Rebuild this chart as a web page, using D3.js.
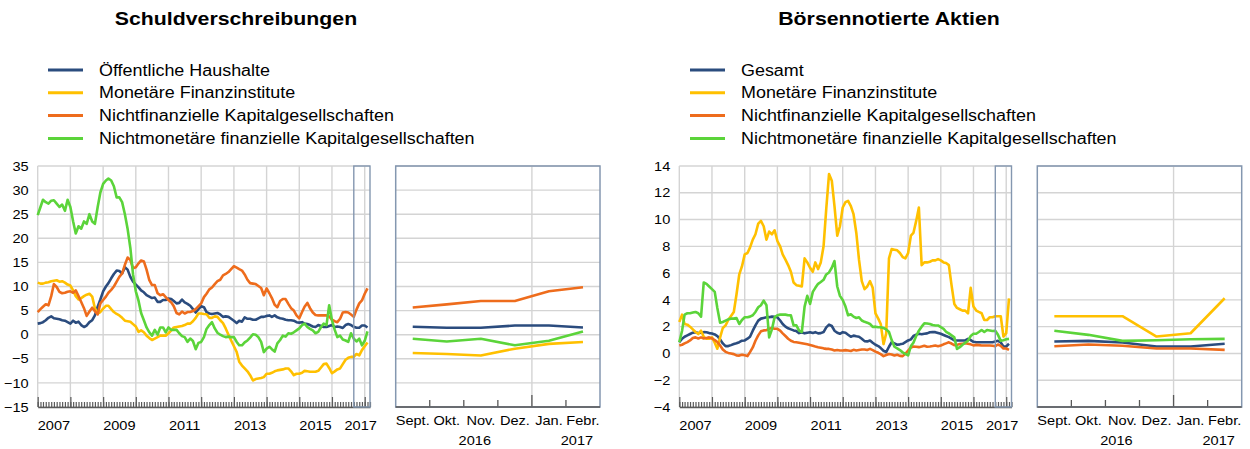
<!DOCTYPE html>
<html>
<head>
<meta charset="utf-8">
<script src="https://cdn.jsdelivr.net/npm/d3@7"></script>
<style>
  body { margin: 0; background: #fff; }
  text { font-family: "Liberation Sans", Arial, sans-serif; fill: #000; }
</style>
</head>
<body>
<script>

// months Jan 2007 .. Feb 2017 (122 values per series)
var months = d3.timeMonth.range(new Date(2007, 0, 1), new Date(2017, 2, 1));
var zoomMonths = ['Sept.', 'Okt.', 'Nov.', 'Dez.', 'Jan.', 'Febr.'];

// Schuldverschreibungen
var bondNames = ['Öffentliche Haushalte', 'Monetäre Finanzinstitute', 'Nichtfinanzielle Kapitalgesellschaften', 'Nichtmonetäre finanzielle Kapitalgesellschaften'];
var bondGov = [2.3, 2.4, 2.6, 3.0, 3.5, 3.8, 3.4, 3.3, 3.2, 3.0, 2.9, 2.6,
  2.3, 2.9, 2.5, 2.7, 2.0, 1.6, 1.9, 2.6, 3.0, 4.0, 5.8, 7.3,
  9.0, 10.0, 10.7, 11.7, 12.6, 13.3, 13.2, 12.7, 14.0, 13.5, 12.0, 11.0,
  10.4, 9.8, 9.2, 8.8, 8.2, 7.9, 7.6, 7.7, 6.8, 6.8, 7.2, 7.2,
  7.5, 7.4, 7.0, 6.5, 6.6, 7.3, 6.7, 6.4, 6.0, 5.3, 4.6, 5.3,
  5.9, 5.7, 4.7, 4.4, 4.3, 4.4, 4.5, 4.2, 3.7, 3.8, 3.7, 3.3,
  2.9, 2.4, 2.9, 2.7, 3.6, 3.3, 3.3, 3.1, 3.1, 3.4, 3.7, 3.7,
  3.9, 4.0, 3.7, 4.0, 3.6, 3.4, 3.3, 3.1, 3.0, 3.0, 2.9, 2.6,
  2.5, 2.6, 2.3, 2.2, 2.0, 1.7, 1.6, 2.0, 1.8, 1.6, 1.6, 1.8,
  2.0, 1.6, 1.7, 1.6, 1.4, 2.0, 2.2, 2.0, 1.64, 1.43, 1.43, 1.9, 1.9, 1.5];
var bondMfi = [10.8, 10.6, 10.6, 10.8, 10.9, 11.1, 11.2, 11.3, 11.0, 11.1, 10.8, 10.4,
  10.2, 9.2, 8.0, 7.3, 7.6, 8.0, 8.3, 8.5, 7.9, 5.5, 4.4, 4.7,
  5.4, 6.0, 6.0, 5.3, 4.7, 4.3, 4.0, 3.5, 2.9, 2.8, 2.7, 2.2,
  1.7, 0.6, 0.9, 0.5, -0.2, -0.7, -1.1, -0.8, -0.5, -0.2, -0.2, -0.2,
  0.3, 0.9, 1.5, 1.6, 1.7, 1.8, 2.0, 2.3, 2.3, 2.8, 3.5, 4.4,
  4.4, 4.3, 4.25, 3.5, 3.5, 3.8, 3.7, 3.0, 2.4, 1.3, 0.0, -1.2,
  -2.4, -3.6, -5.6, -6.4, -7.0, -7.6, -8.4, -9.5, -9.2, -9.1, -9.0, -8.8,
  -8.1, -8.1, -7.9, -7.6, -7.4, -7.3, -7.2, -7.0, -7.0, -7.6, -8.4, -8.1,
  -8.1, -7.9, -7.5, -7.6, -7.7, -7.7, -7.7, -7.5, -6.8, -6.1, -6.0, -6.9,
  -8.0, -7.6, -7.2, -7.0, -6.1, -5.2, -4.8, -4.6, -4.6, -4.0, -4.3, -3.2, -2.4, -1.6];
var bondNfc = [4.7, 5.3, 5.8, 6.3, 6.1, 8.0, 10.5, 9.9, 8.9, 8.6, 8.7, 8.9,
  9.0, 8.7, 9.2, 8.0, 6.8, 5.5, 3.9, 4.8, 5.6, 4.9, 4.2, 6.5,
  7.2, 7.9, 8.7, 9.3, 10.0, 11.0, 12.0, 12.7, 14.5, 16.0, 15.5, 13.8,
  14.0, 14.8, 15.4, 15.2, 13.5, 11.3, 10.3, 10.3, 8.6, 8.2, 8.4, 7.8,
  7.2, 6.7, 5.9, 4.5, 4.2, 4.8, 4.4, 4.7, 4.7, 4.9, 5.3, 5.9,
  6.5, 7.8, 8.5, 9.4, 9.8, 10.5, 11.1, 11.4, 12.3, 12.6, 13.0, 13.6,
  14.2, 13.9, 13.6, 13.3, 12.5, 11.4, 10.7, 10.6, 10.5, 10.1, 9.7, 8.2,
  9.6, 8.6, 7.6, 6.2, 5.7, 7.0, 7.4, 7.4, 6.4, 5.5, 5.0, 4.0,
  3.4, 4.7, 5.8, 6.6, 5.5, 4.6, 4.1, 4.0, 4.0, 4.0, 4.0, 3.8,
  3.1, 2.8, 2.6, 3.3, 4.6, 4.7, 4.6, 4.2, 3.7, 5.2, 6.5, 7.1, 8.5, 9.6];
var bondOfi = [24.8, 26.5, 28.0, 27.5, 27.2, 27.8, 27.9, 27.2, 26.5, 27.0, 25.7, 28.0,
  26.5, 23.5, 21.0, 22.5, 22.0, 23.5, 23.0, 25.0, 23.5, 23.0, 26.5, 29.5,
  31.3, 32.0, 32.4, 32.0, 30.8, 28.5, 28.5, 27.5, 25.0, 22.0, 18.0, 12.5,
  9.0, 7.0, 4.5, 3.0, 1.5, 0.5, -0.2, 1.0, 0.0, 1.5, 1.5, 0.5,
  1.5, 1.0, 1.0, 1.0, 0.3, -0.3, -0.5, -1.5, -0.8, -1.3, -3.0, -1.7,
  -1.5, -0.5, 1.2, 2.0, 2.6, 1.3, 0.4, 0.0, -0.3, -0.5, -0.4, -0.5,
  -0.5, -1.5, -2.2, -2.2, -1.6, -1.2, -0.6, 0.1, 0.0, -0.5, -1.5, -3.6,
  -2.9, -2.5, -3.0, -3.5, -1.8, -1.1, -0.2, -0.4, 0.3, 0.2, 0.5, 0.9,
  1.3, 2.0, 2.3, 1.6, 1.2, 0.9, 0.3, 0.6, 1.6, 2.3, 2.0, 6.1,
  3.0, 1.0, -0.5, -0.2, -1.0, -1.2, -1.5, 0.3, -0.84, -1.4, -0.84, -2.2, -1.26, 0.68];
var bondGovZoom = [1.64, 1.43, 1.43, 1.9, 1.9, 1.5];
var bondMfiZoom = [-3.8, -4.0, -4.3, -2.9, -1.9, -1.5];
var bondNfcZoom = [5.65, 6.3, 7.0, 7.0, 9.0, 9.85];
var bondOfiZoom = [-0.84, -1.4, -0.84, -2.2, -1.26, 0.68];
var bondTicks = [-15, -10, -5, 0, 5, 10, 15, 20, 25, 30, 35];

// Börsennotierte Aktien
var shareNames = ['Gesamt', 'Monetäre Finanzinstitute', 'Nichtfinanzielle Kapitalgesellschaften', 'Nichtmonetäre finanzielle Kapitalgesellschaften'];
var shareTotal = [0.84, 1.1, 1.25, 1.35, 1.45, 1.55, 1.59, 1.53, 1.55, 1.59, 1.58, 1.52,
  1.49, 1.42, 1.3, 1.05, 0.75, 0.55, 0.55, 0.62, 0.7, 0.76, 0.84, 0.95,
  0.97, 1.1, 1.25, 1.7, 2.1, 2.45, 2.6, 2.65, 2.7, 2.71, 2.75, 2.73,
  2.7, 2.46, 2.2, 2.0, 1.88, 1.8, 1.72, 1.67, 1.52, 1.56, 1.5, 1.55,
  1.58, 1.53, 1.59, 1.5, 1.52, 1.6, 1.95, 2.15, 2.05, 1.7, 1.55, 1.47,
  1.59, 1.55, 1.4, 1.25, 1.33, 1.28, 1.25, 1.1, 0.92, 0.9, 0.97, 0.8,
  0.65, 0.55, 0.4, 0.2, 0.1, 0.5, 0.85, 0.75, 0.65, 0.68, 0.72, 0.84,
  0.97, 1.05, 1.3, 1.4, 1.47, 1.43, 1.47, 1.5, 1.58, 1.59, 1.59, 1.53,
  1.47, 1.38, 1.3, 1.22, 1.1, 0.98, 0.97, 0.97, 0.97, 0.97, 1.09, 1.0,
  0.87, 0.84, 0.84, 0.84, 0.84, 0.84, 0.84, 0.84, 0.89, 0.94, 0.82, 0.52, 0.52, 0.72];
var shareMfi = [2.35, 2.9, 2.2, 2.15, 2.0, 1.8, 1.6, 1.45, 1.7, 1.25, 1.1, 1.1,
  1.2, 0.8, 0.35, 1.2, 1.9, 2.1, 2.5, 2.8, 3.1, 4.4, 5.9, 6.5,
  7.4, 7.5, 7.9, 8.5, 8.9, 9.7, 9.9, 9.5, 8.5, 9.1, 8.9, 9.2,
  8.4, 8.0, 7.4, 7.0, 6.6, 6.1, 5.3, 5.1, 5.05, 5.0, 7.1, 6.8,
  6.4, 6.1, 6.8, 6.3, 6.8, 8.0, 10.8, 13.4, 12.9, 11.0, 8.8, 9.5,
  10.9, 11.3, 11.4, 11.0, 10.4, 9.0, 7.0, 5.4, 4.8, 5.0, 5.4, 4.9,
  3.0, 2.6, 2.2, 0.7, 1.5, 7.1, 7.8, 7.75, 7.7, 7.5, 7.2, 7.1,
  7.5, 8.8, 9.0, 9.9, 10.9, 6.6, 6.8, 6.8, 6.85, 6.95, 6.95, 7.05,
  6.95, 6.8, 6.75, 6.6, 5.1, 3.7, 3.4, 3.3, 3.2, 3.2, 3.0, 4.9,
  3.5, 3.2, 3.1, 3.0, 2.5, 2.5, 2.7, 2.7, 2.78, 2.78, 2.78, 1.26, 1.51, 4.12];
var shareNfc = [0.59, 0.65, 0.75, 0.85, 0.97, 1.15, 1.2, 1.12, 1.2, 1.12, 1.15, 1.2,
  1.12, 1.0, 0.85, 0.6, 0.3, 0.12, 0.04, 0.0, -0.05, -0.15, -0.16, -0.1,
  -0.14, -0.2, 0.1, 0.45, 0.95, 1.35, 1.65, 1.72, 1.74, 1.85, 1.9, 1.85,
  1.84, 1.7, 1.5, 1.3, 1.1, 0.95, 0.86, 0.84, 0.8, 0.76, 0.72, 0.68,
  0.63, 0.57, 0.52, 0.47, 0.43, 0.38, 0.34, 0.34, 0.29, 0.22, 0.26, 0.22,
  0.22, 0.25, 0.22, 0.18, 0.27, 0.22, 0.26, 0.3, 0.3, 0.26, 0.34, 0.25,
  0.14, 0.05, -0.05, -0.2, -0.12, -0.04, -0.08, -0.15, -0.1, -0.18, -0.2, -0.03,
  0.22, 0.45, 0.52, 0.5, 0.47, 0.52, 0.58, 0.5, 0.52, 0.55, 0.59, 0.54,
  0.59, 0.68, 0.75, 0.83, 0.74, 0.62, 0.64, 0.7, 0.73, 0.76, 0.72, 0.68,
  0.6, 0.64, 0.62, 0.59, 0.59, 0.59, 0.59, 0.57, 0.54, 0.67, 0.57, 0.37, 0.37, 0.27];
var shareOfi = [0.84, 1.7, 2.9, 3.0, 3.0, 3.05, 3.1, 3.0, 2.75, 5.3, 5.2, 5.0,
  4.8, 4.6, 3.4, 2.3, 2.35, 2.45, 2.55, 2.6, 2.6, 2.65, 2.2, 2.5,
  2.7, 2.7, 2.75, 2.85, 3.1, 3.45, 3.6, 3.95, 3.6, 1.2, 1.8, 2.7,
  2.85, 2.9, 2.9, 2.9, 2.85, 2.84, 2.1, 2.1, 1.7, 1.6, 3.5, 4.3,
  3.7, 4.6, 4.9, 5.2, 5.34, 5.5, 5.9, 6.05, 6.4, 6.9, 5.0, 4.3,
  4.0, 3.5, 2.85, 2.93, 2.75, 2.65, 2.7, 2.46, 2.36, 2.3, 2.2, 1.98,
  2.0, 1.96, 1.96, 1.9, 1.8, 1.6, 1.0, 0.5, 0.38, 0.25, 0.08, -0.03,
  -0.15, 0.55, 0.8, 1.3, 1.7, 2.0, 2.25, 2.24, 2.2, 2.12, 2.09, 2.09,
  1.96, 1.84, 1.62, 1.5, 1.35, 1.2, 0.34, 0.47, 0.65, 0.8, 0.95, 1.3,
  1.47, 1.47, 1.6, 1.75, 1.6, 1.75, 1.72, 1.68, 1.69, 1.39, 0.94, 0.99, 1.06, 1.09];
var shareTotalZoom = [0.89, 0.94, 0.82, 0.52, 0.52, 0.72];
var shareMfiZoom = [2.78, 2.78, 2.78, 1.26, 1.51, 4.12];
var shareNfcZoom = [0.54, 0.67, 0.57, 0.37, 0.37, 0.27];
var shareOfiZoom = [1.69, 1.39, 0.94, 0.99, 1.06, 1.09];
var shareTicks = [-4, -2, 0, 2, 4, 6, 8, 10, 12, 14];

var colors = ['#2b4c7e', '#ffc000', '#ee6c1c', '#5bd43a'];
var gridColor = '#d4d4d4';
var frameColor = '#8497b0';
var axisColor = '#595959';
var stretch = 1.12; // the picture is slightly wider than the font

var svg = d3.select('body').append('svg')
    .attr('width', 1250)
    .attr('height', 449);

function drawChart(c) {
  var g = svg.append('g');
  var top = 166, bottom = 407;

  // title
  g.append('text')
      .attr('x', c.titleX).attr('y', 25)
      .attr('text-anchor', 'middle')
      .style('font-size', '19px').style('font-weight', 'bold')
      .text(c.title);

  // legend
  c.names.forEach(function(n, i) {
    var ly = 70 + i * 22.8;
    g.append('line')
        .attr('x1', c.legX).attr('x2', c.legX + 35)
        .attr('y1', ly).attr('y2', ly)
        .attr('stroke', colors[i]).attr('stroke-width', 3);
    g.append('text')
        .attr('x', c.legX + 51).attr('y', ly + 5.6)
        .style('font-size', '16px')
        .text(n);
  });

  var y = d3.scaleLinear().domain(d3.extent(c.ticks)).range([bottom, top]);

  // ---- main panel
  var x = d3.scaleTime()
      .domain([months[0], new Date(2017, 2, 1)])
      .range([c.x0, c.x1]);

  g.selectAll('.hgrid').data(c.ticks).enter().append('line')
      .attr('x1', c.x0).attr('x2', c.x1)
      .attr('y1', function(d) { return y(d); })
      .attr('y2', function(d) { return y(d); })
      .attr('stroke', gridColor).attr('stroke-width', 1.4);

  var years = d3.timeYear.range(new Date(2007, 0, 1), new Date(2017, 1, 1));
  g.selectAll('.vgrid').data(years).enter().append('line')
      .attr('x1', function(d) { return x(d); })
      .attr('x2', function(d) { return x(d); })
      .attr('y1', top).attr('y2', bottom)
      .attr('stroke', gridColor).attr('stroke-width', 1.4);

  // month ticks and year ticks pointing up
  g.append('g')
      .attr('transform', 'translate(0,' + bottom + ')')
      .call(d3.axisBottom(x).ticks(d3.timeMonth).tickSizeInner(-5).tickSizeOuter(0).tickFormat(''))
      .call(function(a) {
        a.selectAll('line').attr('stroke', axisColor).attr('stroke-width', 1.2);
        a.select('.domain').attr('stroke', axisColor).attr('stroke-width', 1.6);
      });
  g.append('g')
      .attr('transform', 'translate(0,' + bottom + ')')
      .call(d3.axisBottom(x).ticks(d3.timeYear).tickSizeInner(-10).tickSizeOuter(0).tickFormat(''))
      .call(function(a) {
        a.selectAll('line').attr('stroke', axisColor).attr('stroke-width', 1.2);
        a.select('.domain').remove();
      });

  // year labels
  var yearLabels = [2007, 2009, 2011, 2013, 2015];
  g.selectAll('.ylab').data(yearLabels).enter().append('text')
      .attr('x', function(d) { return x(new Date(d, 6, 1)); })
      .attr('y', 430)
      .attr('text-anchor', 'middle')
      .style('font-size', '13px')
      .text(function(d) { return d; });
  g.append('text')
      .attr('x', x(new Date(2017, 0, 1)) - 4)
      .attr('y', 430)
      .attr('text-anchor', 'middle')
      .style('font-size', '13px')
      .text('2017');

  // y labels
  g.append('g')
      .attr('transform', 'translate(' + c.x0 + ',0)')
      .call(d3.axisLeft(y).tickValues(c.ticks).tickSize(0).tickPadding(9))
      .call(function(a) {
        a.select('.domain').remove();
        a.selectAll('text').style('font-size', '13px').attr('fill', '#000')
            .style('font-family', '"Liberation Sans", Arial, sans-serif');
      });

  // lines
  var line = d3.line()
      .x(function(d, i) { return x(months[i]); })
      .y(function(d) { return y(d); });
  c.series.forEach(function(s, i) {
    g.append('path')
        .datum(s)
        .attr('d', line)
        .attr('fill', 'none')
        .attr('stroke', colors[i])
        .attr('stroke-width', 2.6)
        .attr('stroke-linejoin', 'round');
  });

  // highlighted last six months
  var hx = x(new Date(2016, 8, 1));
  g.append('rect')
      .attr('x', hx).attr('y', top)
      .attr('width', c.x1 - hx).attr('height', bottom - top)
      .attr('fill', 'none')
      .attr('stroke', frameColor).attr('stroke-width', 1.4);

  // ---- zoom panel
  var xb = d3.scaleBand().domain(zoomMonths).range([c.z0, c.z1]);
  var bw = xb.bandwidth();

  g.selectAll('.zgrid').data(c.ticks).enter().append('line')
      .attr('x1', c.z0).attr('x2', c.z1)
      .attr('y1', function(d) { return y(d); })
      .attr('y2', function(d) { return y(d); })
      .attr('stroke', gridColor).attr('stroke-width', 1.4);
  g.append('line')
      .attr('x1', xb('Jan.')).attr('x2', xb('Jan.'))
      .attr('y1', top).attr('y2', bottom)
      .attr('stroke', gridColor).attr('stroke-width', 1.4);

  g.selectAll('.ztick').data(zoomMonths.slice(1)).enter().append('line')
      .attr('x1', function(d) { return xb(d); })
      .attr('x2', function(d) { return xb(d); })
      .attr('y1', bottom)
      .attr('y2', function(d) { return d === 'Jan.' ? bottom - 12 : bottom - 7; })
      .attr('stroke', axisColor).attr('stroke-width', 1.3);

  var zline = d3.line()
      .x(function(d, i) { return xb(zoomMonths[i]) + bw / 2; })
      .y(function(d) { return y(d); });
  c.zoomSeries.forEach(function(s, i) {
    g.append('path')
        .datum(s)
        .attr('d', zline)
        .attr('fill', 'none')
        .attr('stroke', colors[i])
        .attr('stroke-width', 2.6)
        .attr('stroke-linejoin', 'round');
  });

  g.append('rect')
      .attr('x', c.z0).attr('y', top)
      .attr('width', c.z1 - c.z0).attr('height', bottom - top)
      .attr('fill', 'none')
      .attr('stroke', frameColor).attr('stroke-width', 1.5);
  g.append('line')
      .attr('x1', c.z0).attr('x2', c.z1)
      .attr('y1', bottom).attr('y2', bottom)
      .attr('stroke', axisColor).attr('stroke-width', 1.6);

  g.selectAll('.mlab').data(zoomMonths).enter().append('text')
      .attr('x', function(d) { return xb(d) + bw / 2; })
      .attr('y', 425)
      .attr('text-anchor', 'middle')
      .style('font-size', '13px')
      .text(function(d) { return d; });
  g.append('text')
      .attr('x', xb('Nov.') + bw / 2 - 6).attr('y', 445)
      .attr('text-anchor', 'middle')
      .style('font-size', '13px')
      .text('2016');
  g.append('text')
      .attr('x', xb('Febr.') + bw / 2 - 6).attr('y', 445)
      .attr('text-anchor', 'middle')
      .style('font-size', '13px')
      .text('2017');
}

drawChart({
  title: 'Schuldverschreibungen', titleX: 236, legX: 48,
  names: bondNames, ticks: bondTicks,
  x0: 37.7, x1: 370, z0: 395.7, z1: 600,
  series: [bondGov, bondMfi, bondNfc, bondOfi],
  zoomSeries: [bondGovZoom, bondMfiZoom, bondNfcZoom, bondOfiZoom]
});

drawChart({
  title: 'Börsennotierte Aktien', titleX: 889, legX: 690,
  names: shareNames, ticks: shareTicks,
  x0: 679.3, x1: 1011.5, z0: 1037.3, z1: 1241.7,
  series: [shareTotal, shareMfi, shareNfc, shareOfi],
  zoomSeries: [shareTotalZoom, shareMfiZoom, shareNfcZoom, shareOfiZoom]
});

// widen all text a little, like in the source picture
svg.selectAll('text').each(function() {
  var w = this.getComputedTextLength();
  d3.select(this).attr('textLength', w * stretch).attr('lengthAdjust', 'spacingAndGlyphs');
});

</script>
</body>
</html>
